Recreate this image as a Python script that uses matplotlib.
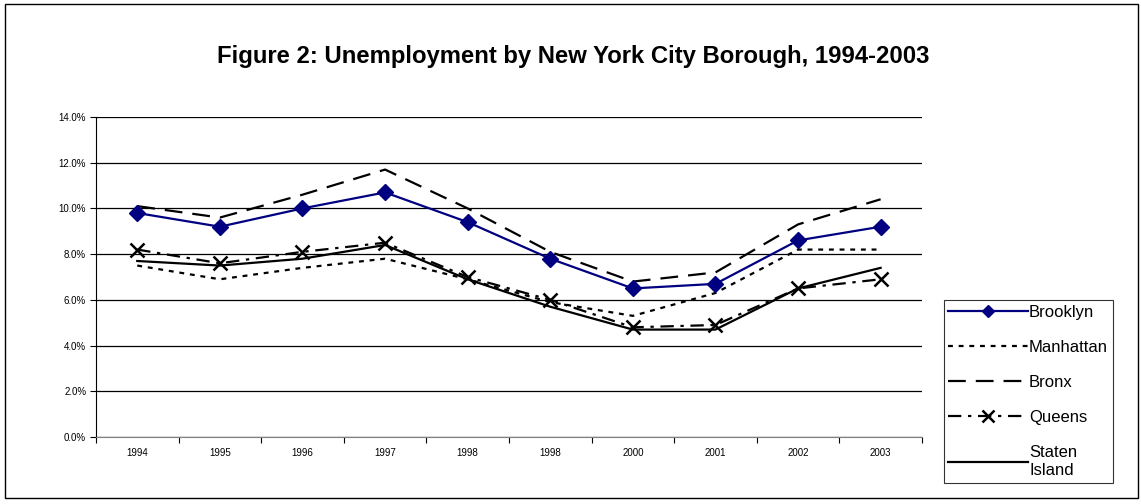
import matplotlib.pyplot as plt
import numpy as np
from matplotlib.patches import Rectangle
from matplotlib.ticker import FixedLocator, FuncFormatter

plt.rcParams['font.family'] = ['Liberation Sans', 'DejaVu Sans']

# unemployment rate (%) per borough, one value per year label
years = ['1994', '1995', '1996', '1997', '1998', '1998', '2000', '2001', '2002', '2003']
brooklyn = [9.8, 9.2, 10.0, 10.7, 9.4, 7.8, 6.5, 6.7, 8.6, 9.2]
manhattan = [7.5, 6.9, 7.4, 7.8, 6.9, 5.9, 5.3, 6.3, 8.2, 8.2]
bronx = [10.1, 9.6, 10.6, 11.7, 10.0, 8.1, 6.8, 7.2, 9.3, 10.4]
queens = [8.2, 7.6, 8.1, 8.5, 7.0, 6.0, 4.8, 4.9, 6.5, 6.9]
staten = [7.7, 7.5, 7.8, 8.4, 6.9, 5.7, 4.7, 4.7, 6.5, 7.4]

fig = plt.figure(figsize=(11.41, 5.04), dpi=100)
ax = fig.add_axes([0.0841, 0.1329, 0.7239, 0.635])

x = np.arange(len(years))
ax.plot(x, manhattan, color='black', lw=1.6, ls=(0, (2.2, 2.6)), label='Manhattan', zorder=3)
ax.plot(x, bronx, color='black', lw=1.6, ls=(0, (8, 4.5)), label='Bronx', zorder=3)
ax.plot(x, queens, color='black', lw=1.6, ls=(0, (6, 3, 1.5, 3)), marker='x', ms=10,
        mew=1.8, label='Queens', zorder=4)
ax.plot(x, staten, color='black', lw=1.6, ls='-', label='Staten\nIsland', zorder=3)
ax.plot(x, brooklyn, color='#000080', lw=1.6, marker='D', ms=8, label='Brooklyn', zorder=5)

ax.set_xlim(-0.5, len(years) - 0.5)
ax.set_ylim(0, 14)
ax.yaxis.set_major_locator(FixedLocator(np.arange(0, 14.1, 2)))
ax.yaxis.set_major_formatter(FuncFormatter(lambda v, p: f'{v:.1f}%'))
ax.grid(axis='y', color='black', lw=0.9)
ax.set_axisbelow(True)

# tick marks between categories, labels centred on each category
ax.xaxis.set_major_locator(FixedLocator(np.arange(-0.5, len(years), 1.0)))
ax.xaxis.set_major_formatter(FuncFormatter(lambda v, p: ''))
ax.set_xticks(x, minor=True)
ax.set_xticklabels(years, minor=True)
ax.tick_params(axis='x', which='minor', length=0, labelsize=7, pad=8)
ax.tick_params(axis='x', which='major', length=4, color='black')
ax.tick_params(axis='y', labelsize=7, length=4, pad=3)

for s in ['top', 'right']:
    ax.spines[s].set_visible(False)
ax.spines['left'].set_color('black')
ax.spines['bottom'].set_color('#808080')

fig.suptitle('Figure 2: Unemployment by New York City Borough, 1994-2003',
             x=0.502, y=0.887, va='center', fontsize=17.2, fontweight='bold')

h, l = ax.get_legend_handles_labels()
order = [4, 0, 1, 2, 3]
leg = fig.legend([h[i] for i in order], [l[i] for i in order], loc='upper left',
                 bbox_to_anchor=(0.827, 0.405), frameon=True, fancybox=False,
                 edgecolor='black', fontsize=12, handlelength=4.8,
                 handletextpad=0.05, labelspacing=1.2, borderpad=0.28,
                 borderaxespad=0, markerscale=0.8)
leg.get_frame().set_linewidth(0.8)
for t in leg.get_texts():
    t.set_linespacing(1.3)

# outer frame around the whole figure
fig.patches.append(Rectangle((0.004, 0.012), 0.993, 0.98, transform=fig.transFigure,
                             fill=False, edgecolor='black', lw=1.0))

fig.savefig('out.png', dpi=100)
